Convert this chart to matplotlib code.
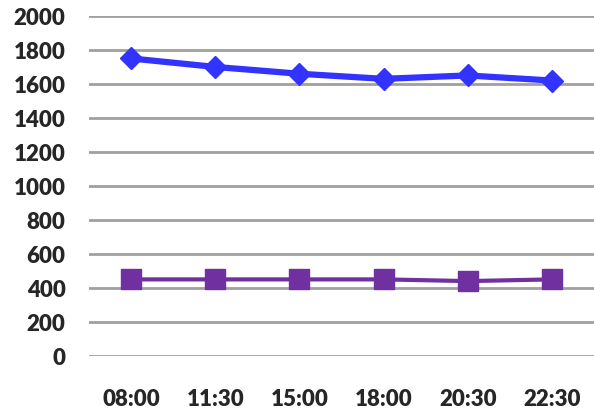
import matplotlib.pyplot as plt

times = ['08:00', '11:30', '15:00', '18:00', '20:30', '22:30']
blue_vals = [1750, 1700, 1660, 1630, 1650, 1620]
purple_vals = [450, 450, 450, 450, 440, 450]
y_ticks = [0, 200, 400, 600, 800, 1000, 1200, 1400, 1600, 1800, 2000]

fig = plt.figure(figsize=(5.94, 4.14), dpi=100)
ax = fig.add_axes([0.15, 0.138, 0.85, 0.821])

x = list(range(len(times)))
ax.plot(x, blue_vals, color='#3333ff', lw=4.5, marker='D', ms=11, zorder=3)
ax.plot(x, purple_vals, color='#7030a0', lw=3, marker='s', ms=14, zorder=3)

ax.set_xlim(-0.5, 5.5)
ax.set_ylim(0, 2000)
ax.set_yticks(y_ticks)
ax.set_xticks(x)
ax.set_xticklabels(times)
ax.grid(axis='y', color='#a0a0a0', lw=2)
ax.set_axisbelow(True)
for s in ax.spines.values():
    s.set_visible(False)
ax.tick_params(axis='y', length=0, labelcolor='#262626', pad=17)
ax.tick_params(axis='x', length=0, labelcolor='#262626', pad=23)
for lab in ax.get_xticklabels() + ax.get_yticklabels():
    lab.set_fontfamily('Lato')
    lab.set_fontweight('heavy')
    lab.set_fontsize(16)

fig.savefig('out.png', dpi=100)
